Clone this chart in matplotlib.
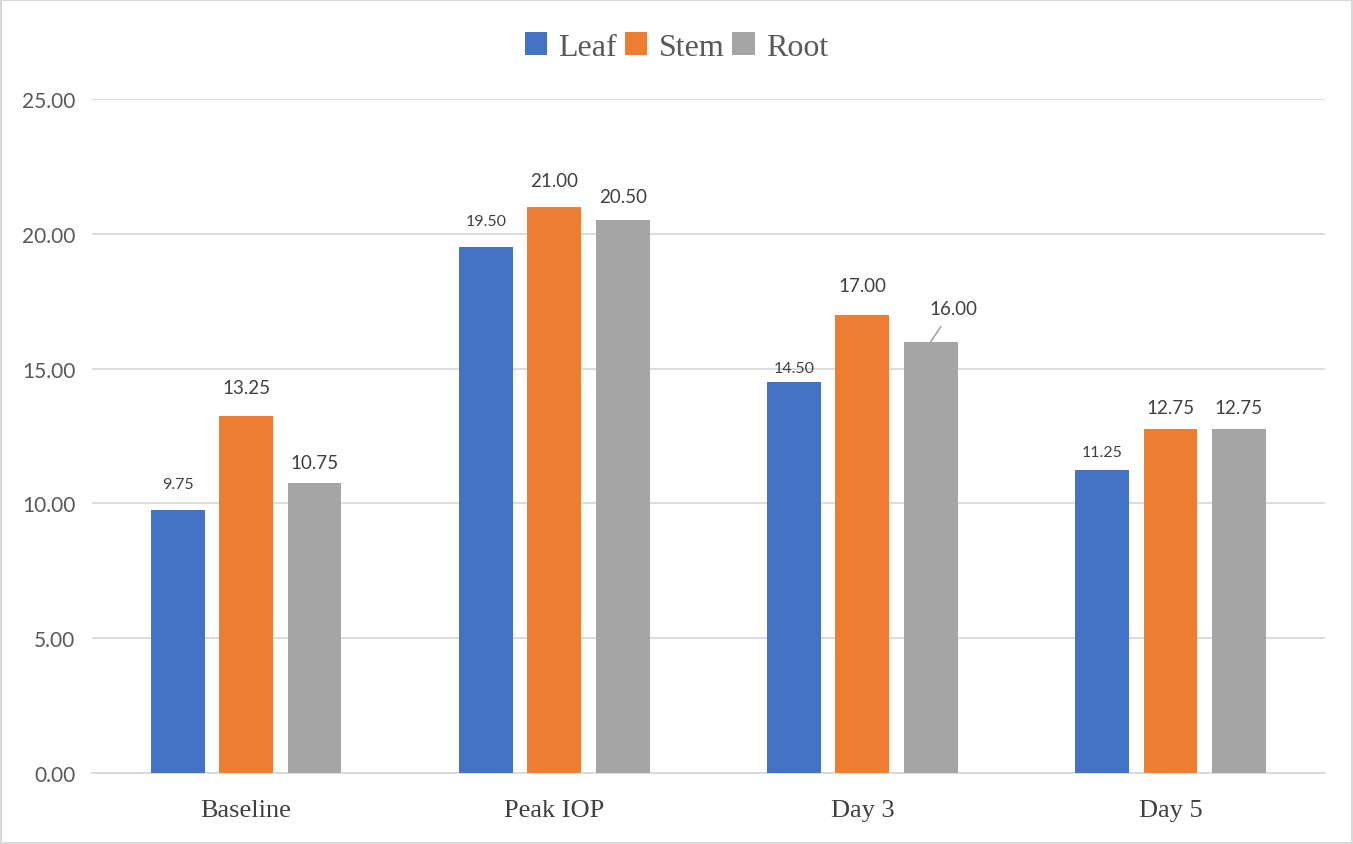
import matplotlib
matplotlib.use("Agg")
import matplotlib.pyplot as plt
import numpy as np

categories = ["Baseline", "Peak IOP", "Day 3", "Day 5"]
series_names = ["Leaf", "Stem", "Root"]
leaf = [9.75, 19.50, 14.50, 11.25]
stem = [13.25, 21.00, 17.00, 12.75]
root = [10.75, 20.50, 16.00, 12.75]
y_ticks = [0, 5, 10, 15, 20, 25]

colors = ["#4472c4", "#ed7d31", "#a5a5a5"]
values = [leaf, stem, root]

fig = plt.figure(figsize=(13.53, 8.45), dpi=100)
ax = fig.add_axes([0.068, 0.084, 0.911, 0.7977])

x = np.arange(len(categories))
width = 0.175
offsets = [-0.222, 0.0, 0.222]

serif = ["Liberation Serif", "DejaVu Serif"]
sans = ["Lato", "DejaVu Sans"]

bars = []
for i, (name, vals) in enumerate(zip(series_names, values)):
    b = ax.bar(x + offsets[i], vals, width, color=colors[i], label=name, zorder=3)
    bars.append(b)

# value labels above the bars (points above the bar top)
label_gap = [
    [19, 20, 15],
    [19, 19, 17],
    [10, 21, None],
    [13, 16, 16],
]
for i, vals in enumerate(values):
    fs = 11.5 if i == 0 else 13.5
    for j, v in enumerate(vals):
        xc = x[j] + offsets[i]
        gap = label_gap[j][i]
        if gap is None:
            # label pulled up and to the right with a leader line
            ax.annotate(f"{v:.2f}", xy=(xc, v), xytext=(16, 24),
                        textcoords="offset points", ha="center", va="center",
                        fontsize=fs, color="#404040", family=sans,
                        arrowprops=dict(arrowstyle="-", color="#a6a6a6",
                                        lw=1.2, shrinkA=6, shrinkB=0))
        else:
            ax.annotate(f"{v:.2f}", xy=(xc, v), xytext=(0, gap),
                        textcoords="offset points", ha="center", va="center",
                        fontsize=fs, color="#404040", family=sans)

ax.set_xlim(-0.5, len(categories) - 0.5)
ax.set_ylim(0, 25)
ax.set_yticks(y_ticks)
ax.set_yticklabels([f"{t:.2f}" for t in y_ticks], fontsize=15,
                   color="#595959", family=sans)
ax.set_xticks(x)
ax.set_xticklabels(categories, fontsize=19, color="#404040", family=serif)
ax.tick_params(axis="both", length=0)
ax.tick_params(axis="y", pad=12)
ax.tick_params(axis="x", pad=19)

ax.grid(axis="y", color="#d9d9d9", linewidth=1.3, zorder=0)
for s in ["top", "right", "left"]:
    ax.spines[s].set_visible(False)
ax.spines["bottom"].set_color("#d9d9d9")
ax.spines["bottom"].set_linewidth(1.3)

leg = fig.legend(handles=bars, labels=series_names, loc="center",
                 bbox_to_anchor=(0.5, 0.943), ncol=3, frameon=False,
                 prop={"family": serif, "size": 23},
                 handlelength=0.7, handleheight=0.7, handletextpad=0.35,
                 columnspacing=0.25, labelcolor="#595959")

# thin frame around the whole chart
fig.patches.append(plt.Rectangle((0.001, 0.001), 0.998, 0.998,
                                 transform=fig.transFigure, fill=False,
                                 edgecolor="#d9d9d9", linewidth=1.5))

fig.savefig("out.png", dpi=100)
